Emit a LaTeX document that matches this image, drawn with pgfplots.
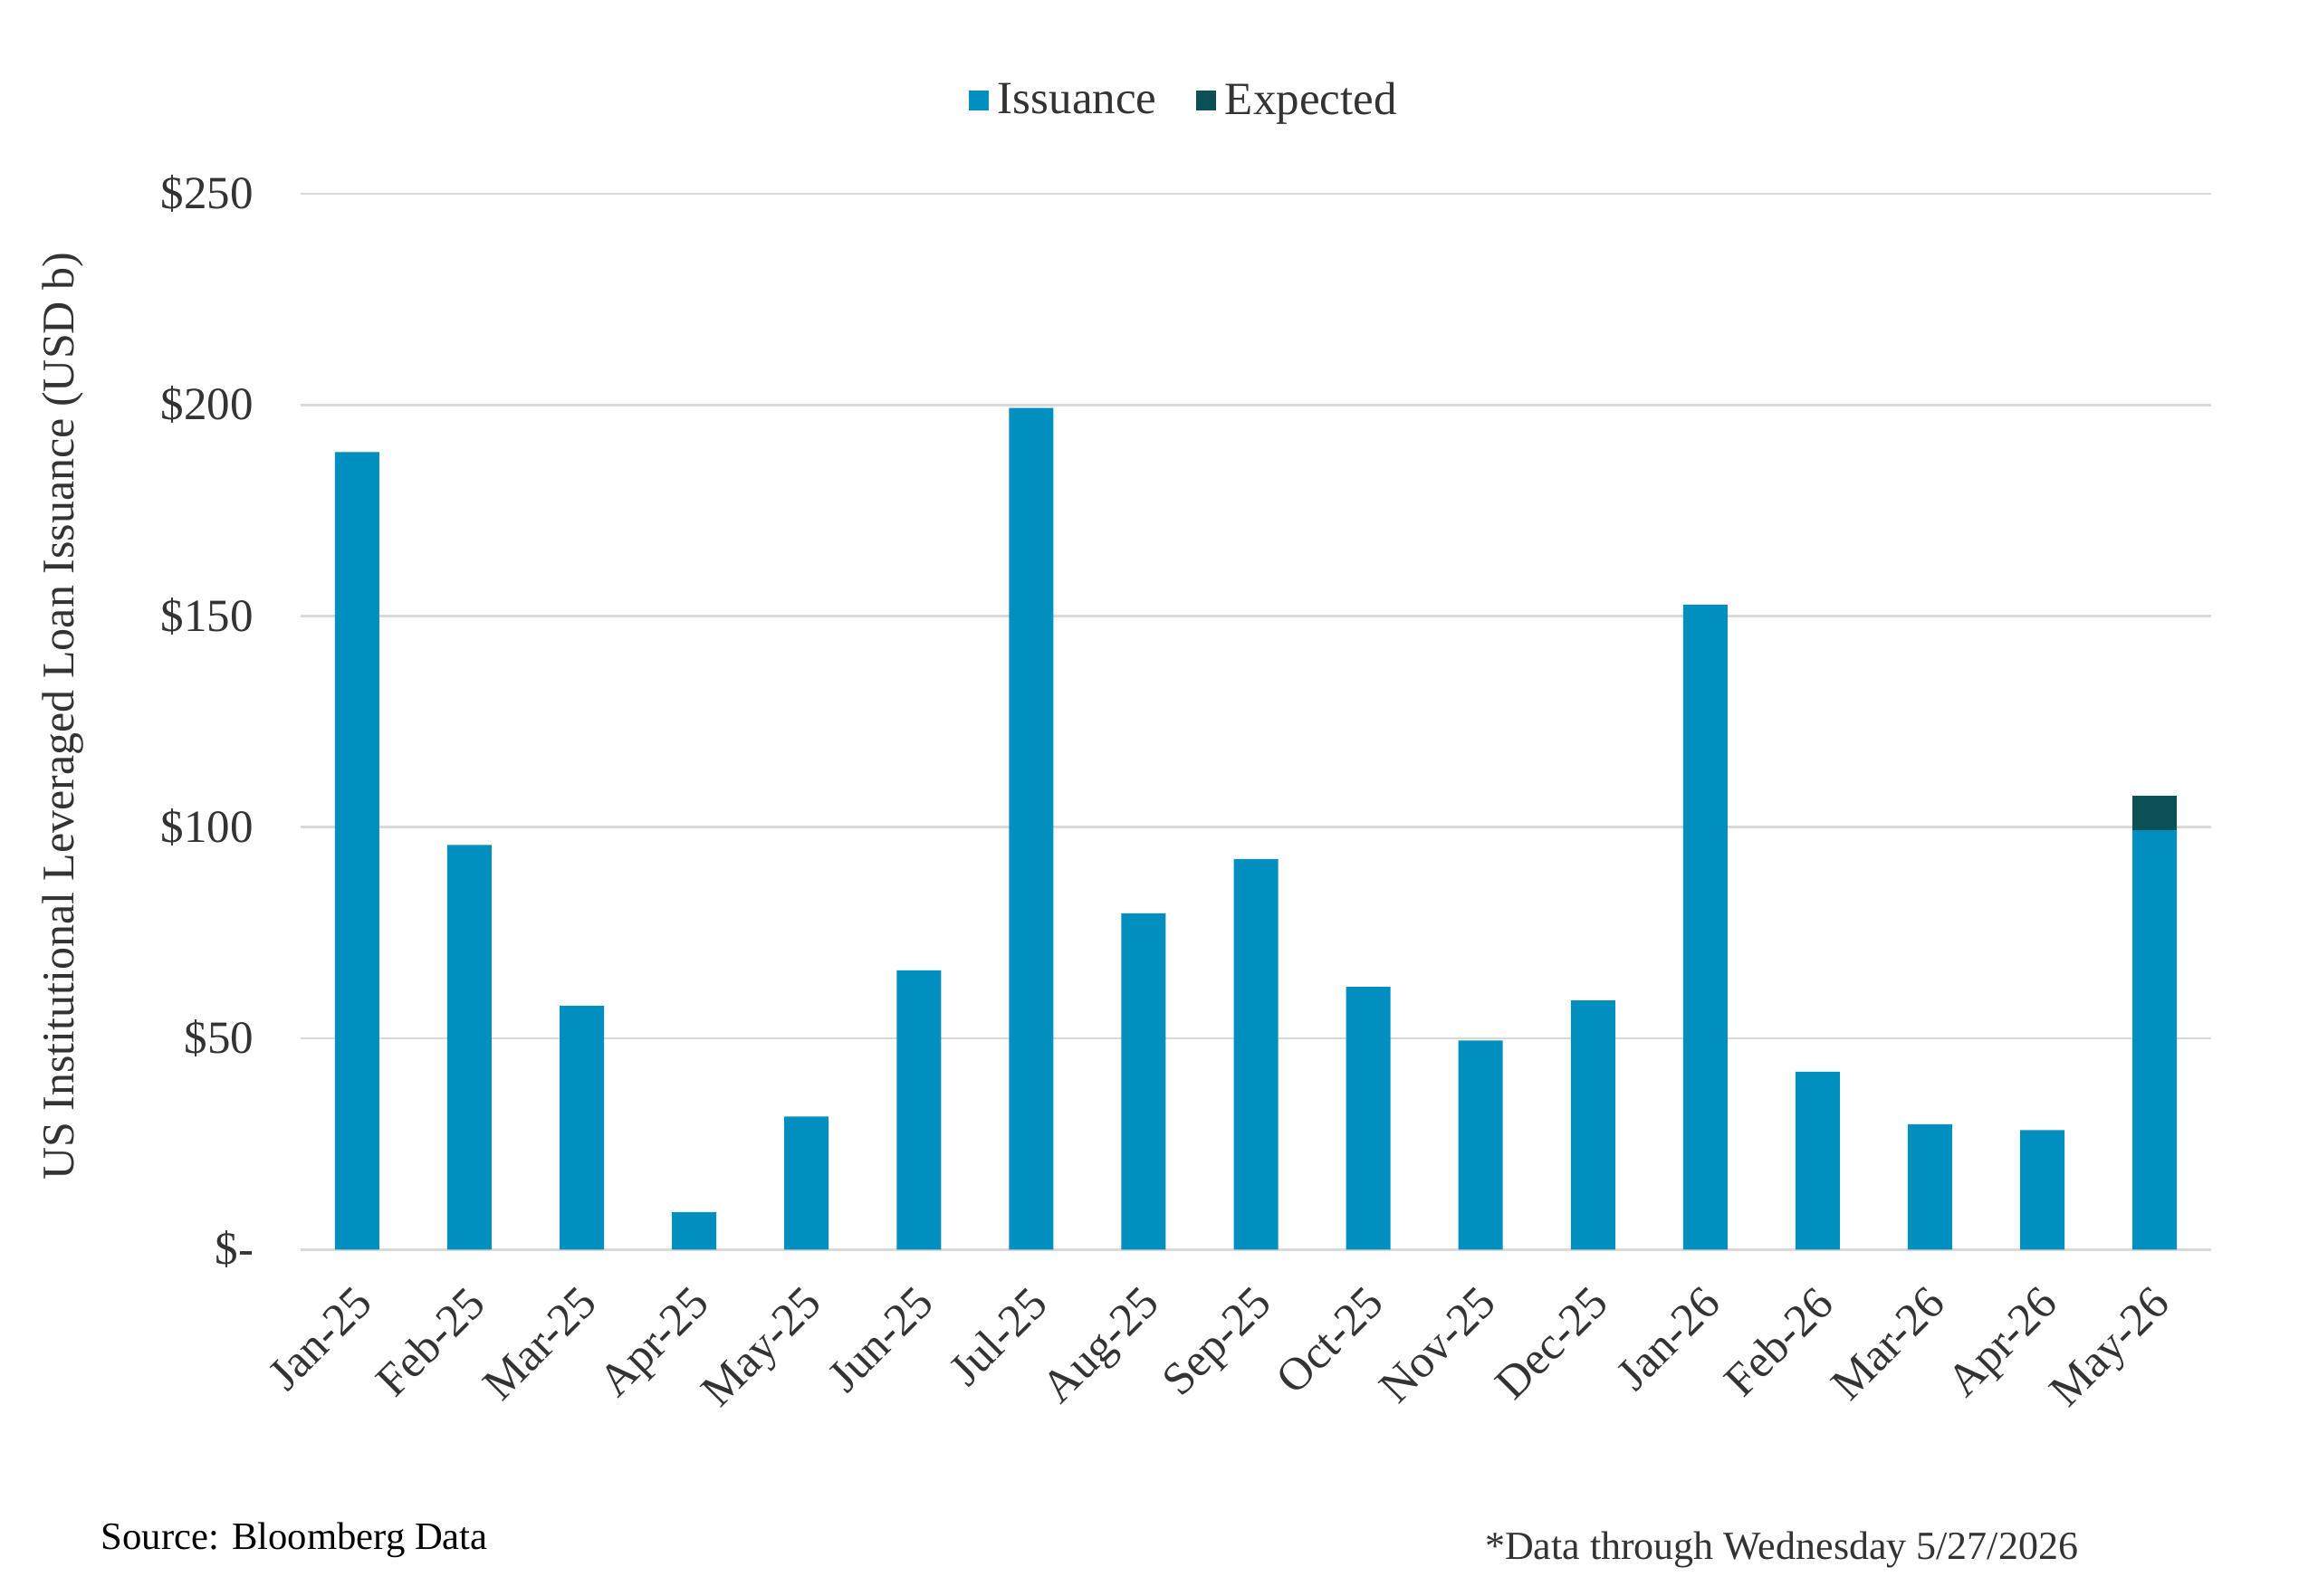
\documentclass[border=0pt]{standalone}
\usepackage{pgfplots}
\pgfplotsset{compat=1.18}
\usepackage{fontspec}
\setmainfont{Liberation Serif}
\definecolor{issue}{HTML}{008FBE}
\definecolor{expct}{HTML}{0B4F57}
\definecolor{gridc}{HTML}{D9D9D9}
\definecolor{txt}{HTML}{333333}
\begin{document}
\begin{tikzpicture}
\path[use as bounding box] (0,0) rectangle (768pt,528.9pt);
\begin{axis}[
  at={(99.7pt,114.8pt)}, anchor=south west,
  scale only axis, width=632.8pt, height=349.9pt,
  ybar stacked, bar width=14.7pt,
  xmin=-0.5, xmax=16.5, ymin=0, ymax=250,
  axis line style={draw=none},
  xtick={0,...,16},
  xticklabels={Jan-25,Feb-25,Mar-25,Apr-25,May-25,Jun-25,Jul-25,Aug-25,Sep-25,Oct-25,Nov-25,Dec-25,Jan-26,Feb-26,Mar-26,Apr-26,May-26},
  ytick={0,50,100,150,200,250},
  yticklabels={\$-,\$50,\$100,\$150,\$200,\$250},
  major tick length=0pt,
  ymajorgrids, grid style={gridc, line width=0.8pt},
  tick label style={font=\fontsize{15.3}{18}\selectfont, text=txt},
  yticklabel style={anchor=east, inner sep=0pt, xshift=-15.5pt},
  xticklabel style={anchor=north east, inner sep=0pt, xshift=-1.4pt, yshift=-11.2pt, rotate=45},
  ylabel={US Institutional Leveraged Loan Issuance (USD b)},
  ylabel style={at={(axis description cs:-0.1244,0.505)}, anchor=center, font=\fontsize{15}{18}\selectfont, text=txt},
  legend columns=2,
  legend style={at={(axis description cs:0.4641,1.088)}, anchor=center, draw=none, fill=none,
    font=\fontsize{15.3}{18}\selectfont, text=txt,
    nodes={inner sep=3pt},
    /tikz/every even column/.append style={column sep=10pt}},
  legend image code/.code={\fill[#1] (0pt,-3.3pt) rectangle (6.6pt,3.3pt);},
]
\addplot[fill=issue, draw=none] coordinates {
(0,188.8) (1,95.8) (2,57.7) (3,8.9) (4,31.5) (5,66.1) (6,199.3) (7,79.6) (8,92.5) (9,62.2) (10,49.5) (11,59.0) (12,152.7) (13,42.1) (14,29.7) (15,28.3) (16,99.3)};
\addplot[fill=expct, draw=none] coordinates {
(0,0) (1,0) (2,0) (3,0) (4,0) (5,0) (6,0) (7,0) (8,0) (9,0) (10,0) (11,0) (12,0) (13,0) (14,0) (15,0) (16,8.2)};
\legend{Issuance,Expected}
\end{axis}
\node[anchor=base west, inner sep=0pt, font=\fontsize{12.8}{15}\selectfont] at (33.3pt,15.4pt) {Source: Bloomberg Data};
\node[anchor=base west, inner sep=0pt, font=\fontsize{13.2}{15}\selectfont, text=txt] at (491.8pt,12pt) {*Data through Wednesday 5/27/2026};
\end{tikzpicture}
\end{document}
